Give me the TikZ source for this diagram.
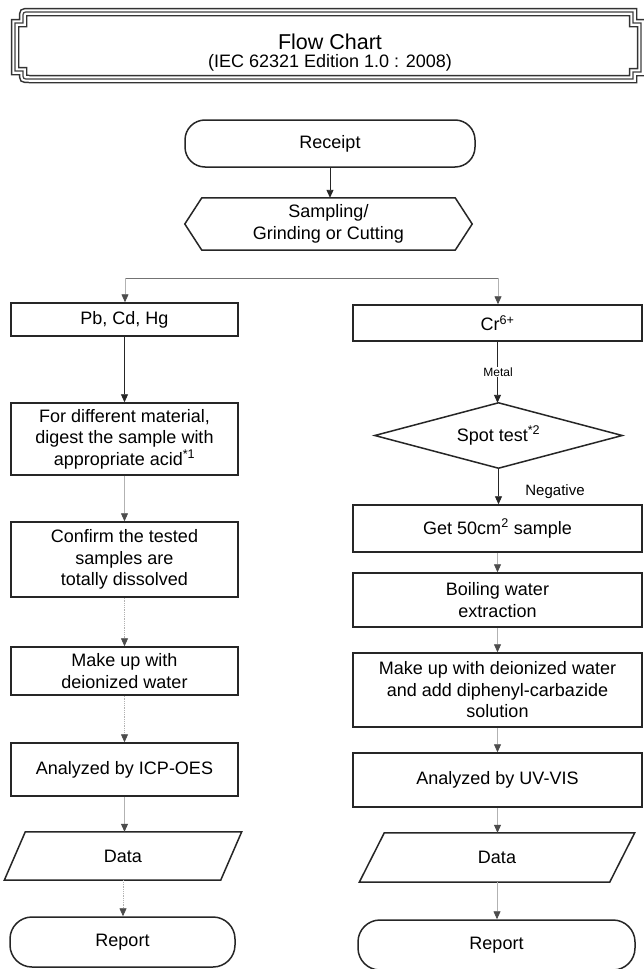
\documentclass[tikz,border=0pt]{standalone}
\usepackage{fontspec}
\setmainfont{Liberation Sans}
\usetikzlibrary{arrows.meta,calc}
\newcommand\mainsz{\fontsize{18}{21.5}\selectfont}
\begin{document}
\begin{tikzpicture}[x=1pt,y=-1pt,
  box/.style={draw=black!85, line width=1.5pt, align=center, inner sep=0pt, font=\mainsz},
  txt/.style={align=center, inner sep=0pt, font=\mainsz},
  shp/.style={draw=black!85, line width=1.5pt, line join=miter},
  arr/.style={-{Triangle[width=7pt,length=8pt]}, line width=0.9pt, draw=black!85},
  farr/.style={-{Triangle[width=7pt,length=8pt,color=black!70]}, line width=0.8pt, draw=black!30},
  darr/.style={farr, densely dotted},
  brl/.style={line width=1pt, draw=black!55},
  lbl/.style={inner sep=1pt, font=\fontsize{12}{14}\selectfont},
  lblb/.style={inner sep=1pt, font=\fontsize{15}{18}\selectfont}]
\useasboundingbox[fill=white] (0,0) rectangle (643,969);

% title frame
\foreach \w/\c in {8.5pt/black!80, 5.5pt/white, 1.2pt/black!75}{
  \draw[line width=\w, draw=\c, line join=miter]
    (633,12) -- (29,12) .. controls (23,12) .. (23,18) -- (23,23) -- (15,23) -- (15,71)
    -- (23,71) -- (23,73) .. controls (23,79) .. (29,79) -- (633,79) -- (633,72)
    -- (641,72) -- (641,23) -- (633,23) -- cycle;
}
\node[inner sep=0pt, font=\fontsize{21.5}{24}\selectfont] (ttl) at (330,42) {Flow Chart};
\node[inner sep=0pt, font=\fontsize{18}{21}\selectfont] (sub) at (330,63) {(IEC 62321 Edition 1.0 : 2008)};

% top
\node[box, minimum width=290pt, minimum height=47pt, rounded corners=20pt] (rec) at (330,143.5) {Receipt};
\node[txt, minimum width=287pt, minimum height=52pt] (samp) at (328.5,224) {Sampling/\\Grinding or Cutting};
\draw[shp] (samp.west) -- ($(samp.north west)+(17,0)$) -- ($(samp.north east)+(-17,0)$) -- (samp.east)
  -- ($(samp.south east)+(-17,0)$) -- ($(samp.south west)+(17,0)$) -- cycle;
\draw[arr] (rec.south) -- (rec.south |- samp.north);

% left column
\node[box, minimum width=227pt, minimum height=33pt] (pb) at (124.5,319.5) {Pb, Cd, Hg};
\node[box, minimum width=227pt, minimum height=72pt] (dig) at (124.5,439) {For different material,\\digest the sample with\\appropriate acid\textsuperscript{*1}};
\node[box, minimum width=227pt, minimum height=75pt] (conf) at (124.5,559.5) {Confirm the tested\\samples are\\totally dissolved};
\node[box, minimum width=227pt, minimum height=48pt] (mkl) at (124.5,671) {Make up with\\deionized water};
\node[box, minimum width=227pt, minimum height=53pt] (icp) at (124.5,769.5) {Analyzed by ICP-OES};
\node[txt, minimum width=216pt, minimum height=48pt] (datl) at (123,856) {Data};
\draw[shp] ($(datl.south west)+(-10.5,0)$) -- ($(datl.north west)+(10.5,0)$) -- ($(datl.north east)+(10.5,0)$) -- ($(datl.south east)+(-10.5,0)$) -- cycle;
\node[box, minimum width=225pt, minimum height=50pt, rounded corners=22pt] (repl) at (122.5,942) {Report};

% right column
\node[box, minimum width=289pt, minimum height=36pt] (cr) at (497.5,323) {Cr\textsuperscript{6+}};
\node[txt, minimum width=247pt, minimum height=65pt] (spot) at (498.5,435.5) {Spot test\textsuperscript{*2}};
\draw[shp] (spot.west) -- (spot.north) -- (spot.east) -- (spot.south) -- cycle;
\node[box, minimum width=289pt, minimum height=47pt] (g50) at (497.5,528.5) {Get 50cm\textsuperscript{2} sample};
\node[box, minimum width=289pt, minimum height=54pt] (boil) at (497.5,600) {Boiling water\\extraction};
\node[box, minimum width=289pt, minimum height=74pt] (mkr) at (497.5,690) {Make up with deionized water\\and add diphenyl-carbazide\\solution};
\node[box, minimum width=289pt, minimum height=54pt] (uv) at (497.5,780) {Analyzed by UV-VIS};
\node[txt, minimum width=250pt, minimum height=49pt] (datr) at (497,857.5) {Data};
\draw[shp] ($(datr.south west)+(-12.5,0)$) -- ($(datr.north west)+(12.5,0)$) -- ($(datr.north east)+(12.5,0)$) -- ($(datr.south east)+(-12.5,0)$) -- cycle;
\node[box, minimum width=277pt, minimum height=50pt, rounded corners=22pt] (repr) at (496.5,945) {Report};

% branch
\coordinate (bl) at (125,278);
\coordinate (br) at (498,278);
\draw[brl] (bl) -- (br);
\draw[farr] (bl) -- (bl |- pb.north);
\draw[farr] (br) -- (br |- cr.north);

% left connectors
\draw[arr] (pb.south) -- (pb.south |- dig.north);
\draw[farr] (dig.south) -- (dig.south |- conf.north);
\draw[darr] (conf.south) -- (conf.south |- mkl.north);
\draw[darr] (mkl.south) -- (mkl.south |- icp.north);
\draw[farr] (icp.south) -- (icp.south |- datl.north);
\draw[darr] (datl.south) -- (datl.south |- repl.north);

% right connectors
\draw[arr] (cr.south) -- (cr.south |- spot.north);
\node[lbl, fill=white] (metal) at (498,372) {Metal};
\draw[arr] (spot.south) -- (spot.south |- g50.north);
\node[lblb] (neg) at (555,492) {Negative};
\draw[farr] (g50.south) -- (g50.south |- boil.north);
\draw[farr] (boil.south) -- (boil.south |- mkr.north);
\draw[farr] (mkr.south) -- (mkr.south |- uv.north);
\draw[farr] (uv.south) -- (uv.south |- datr.north);
\draw[farr] (datr.south) -- (datr.south |- repr.north);
\end{tikzpicture}
\end{document}
